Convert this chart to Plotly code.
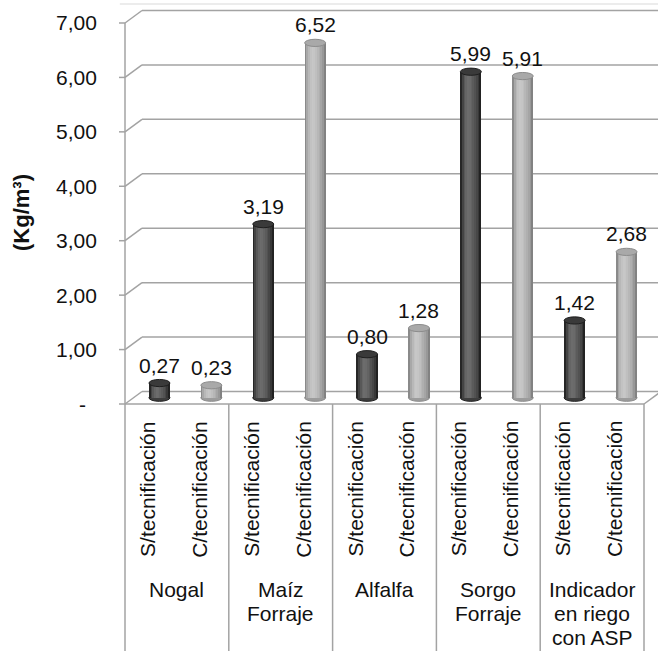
import plotly.graph_objects as go

# --- data -------------------------------------------------------------
cultivos = [["Nogal"], ["Maíz", "Forraje"], ["Alfalfa"], ["Sorgo", "Forraje"],
            ["Indicador", "en riego", "con ASP"]]
tratamientos = ["S/tecnificación", "C/tecnificación"]
sin_tecnificacion = [0.27, 3.19, 0.80, 5.99, 1.42]
con_tecnificacion = [0.23, 6.52, 1.28, 5.91, 2.68]
y_ticks = [0, 1, 2, 3, 4, 5, 6, 7]
y_ticktext = ["-", "1,00", "2,00", "3,00", "4,00", "5,00", "6,00", "7,00"]
y_title = "(Kg/m³)"

# --- geometry of the pseudo-3D frame (axis units) ----------------------
W, H = 658, 651
PX_X = 51.9            # pixels per bar slot
PX_Y = 54.43           # pixels per unit of Kg/m3
X0_PX, Y0_PX = 125, 404
xr = [-X0_PX / PX_X, (W - X0_PX) / PX_X]
yr = [-(H - Y0_PX) / PX_Y, Y0_PX / PX_Y]
DX = 17 / PX_X         # depth offset, horizontal
DY = 12.5 / PX_Y       # depth offset, vertical
BAR_W = 21 / PX_X
RY = 3.6 / PX_Y        # vertical half-axis of the cylinder caps
n_cat = len(cultivos)
n_slots = 2 * n_cat

FONT = "Liberation Sans"
FS = 21
TXT = "#111111"
GRID = "#a3a3a3"

# interleave the two series slot by slot
values, series = [], []
for s, c in zip(sin_tecnificacion, con_tecnificacion):
    values += [s, c]
    series += [0, 1]
centers = [j + 0.5 + DX / 2 for j in range(n_slots)]
base = DY / 2

shapes = []


def seg(x0, y0, x1, y1, color=GRID, width=1.5, layer="below"):
    shapes.append(dict(type="line", xref="x", yref="y", x0=x0, y0=y0,
                       x1=x1, y1=y1, line=dict(color=color, width=width),
                       layer=layer))


# faint chart-area border at the top
seg(-0.1, 7.35, xr[1], 7.35, color="#ececec", width=2)
# back wall gridlines, side diagonals and tick marks
for v in y_ticks:
    seg(DX, v + DY, xr[1], v + DY)
    seg(0, v, DX, v + DY)
    seg(-6 / PX_X, v, 0, v)
# front value axis continued down as the first category divider
seg(0, 7, 0, yr[0])
# floor front edge and right diagonal
seg(0, 0, n_slots, 0)
seg(n_slots, 0, n_slots + DX, DY)
# category dividers
for k in range(1, n_cat + 1):
    seg(2 * k, 0, 2 * k, yr[0])

# cylinder shading profiles (left edge -> right edge)
shade = [
    ["#262626", "#444444", "#585858", "#656565", "#6c6c6c", "#6a6a6a",
     "#636363", "#5b5b5b", "#525252", "#474747", "#383838", "#222222"],
    ["#8a8a8a", "#a8a8a8", "#b8b8b8", "#c2c2c2", "#c7c7c7", "#c5c5c5",
     "#bfbfbf", "#b7b7b7", "#afafaf", "#a5a5a5", "#989898", "#828282"],
]
cap_fill = ["#3a3a3a", "#a9a9a9"]
cap_line = ["#1e1e1e", "#8c8c8c"]
bottom_fill = ["#3e3e3e", "#9c9c9c"]

fig = go.Figure()
n_str = len(shade[0])
sw = BAR_W / n_str
for s in (0, 1):
    xs = [c for c, ss in zip(centers, series) if ss == s]
    vs = [v for v, ss in zip(values, series) if ss == s]
    for k, col in enumerate(shade[s]):
        off = -BAR_W / 2 + sw * (k + 0.5)
        fig.add_trace(go.Bar(
            x=[x + off for x in xs], y=vs, base=base, width=sw * 1.15,
            marker=dict(color=col, line=dict(width=0)),
            showlegend=False, hoverinfo="skip"))

# cylinder bottoms and caps
for c, v, s in zip(centers, values, series):
    shapes.append(dict(type="circle", xref="x", yref="y",
                       x0=c - BAR_W / 2, x1=c + BAR_W / 2,
                       y0=base - RY, y1=base + RY,
                       fillcolor=bottom_fill[s],
                       line=dict(color=cap_line[s], width=1), layer="below"))
    top = base + v
    shapes.append(dict(type="circle", xref="x", yref="y",
                       x0=c - BAR_W / 2, x1=c + BAR_W / 2,
                       y0=top - RY, y1=top + RY,
                       fillcolor=cap_fill[s],
                       line=dict(color=cap_line[s], width=1), layer="above"))

annotations = []


def label(x, y, text, **kw):
    d = dict(x=x, y=y, xref="x", yref="y", text=text, showarrow=False,
             xanchor="center", yanchor="middle", borderpad=0,
             font=dict(family=FONT, size=FS, color=TXT))
    d.update(kw)
    annotations.append(d)


# value labels
for c, v in zip(centers, values):
    label(c, base + v, f"{v:.2f}".replace(".", ","), yshift=18)
# y tick labels
for v, t in zip(y_ticks, y_ticktext):
    if t == "-":
        label(-43 / PX_X, v, t)
    else:
        label(-27 / PX_X, v, t, xanchor="right")
# y title
label(-104 / PX_X, (Y0_PX - 213) / PX_Y, f"<b>{y_title}</b>", textangle=-90,
      font=dict(family=FONT, size=22, color=TXT))
# treatment labels (rotated)
for j in range(n_slots):
    label(j + 0.5 - 4 / PX_X, (Y0_PX - 489) / PX_Y, tratamientos[j % 2],
          textangle=-90)
# crop labels, one line at a time
for k, lines in enumerate(cultivos):
    for i, line in enumerate(lines):
        label(2 * k + 1, (Y0_PX - 589 - 24 * i) / PX_Y, line)

fig.update_layout(
    width=W, height=H, margin=dict(l=0, r=0, t=0, b=0),
    paper_bgcolor="white", plot_bgcolor="white",
    barmode="overlay", bargap=0,
    xaxis=dict(range=xr, visible=False, fixedrange=True),
    yaxis=dict(range=yr, visible=False, fixedrange=True),
    shapes=shapes, annotations=annotations, showlegend=False,
)

fig.write_html("out.html")
